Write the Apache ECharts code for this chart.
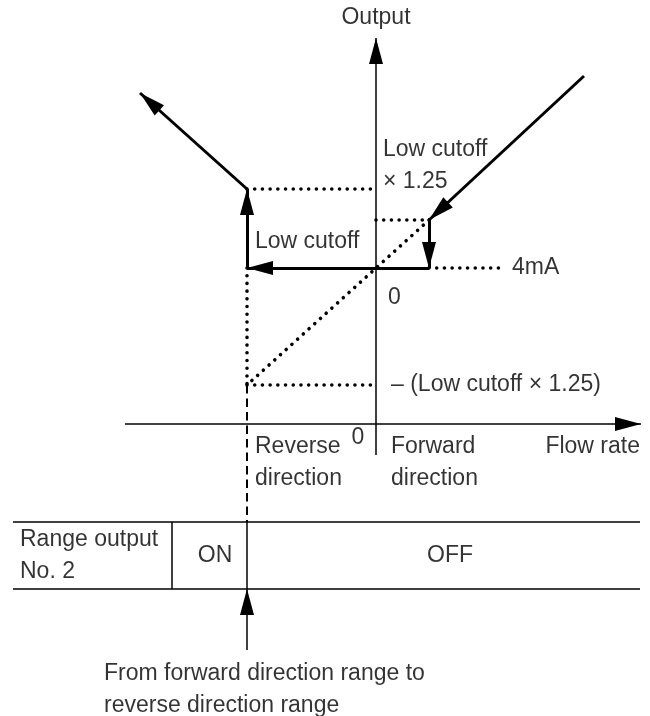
<!DOCTYPE html>
<html>
<head>
<meta charset="utf-8">
<script src="https://cdn.jsdelivr.net/npm/echarts@6/dist/echarts.min.js"></script>
<style>
  html, body { margin: 0; padding: 0; background: #fff; }
  #chart { width: 650px; height: 716px; }
</style>
</head>
<body>
<div id="chart"></div>
<script>
// Schematic units: flow rate on x, output on y, flow axis at y = 0.
const xRange = [-37.6, 27.4];
const yRange = [-29.2, 42.4];

// Key points of the low-cutoff / range switching behaviour
const lowCutoff = 5.3;          // forward low cutoff
const reverseSwitch = -12.9;    // flow where output jumps to the reverse range
const level4mA = 15.6;
const levelCutoff125 = 20.4;
const levelReverseJump = 23.5;
const levelNegCutoff125 = 3.9;

// Axes (arrow at the second point)
const axisArrows = [
  [[-25.1, 0], [26.5, 0]],
  [[0, -3.1], [0, 38.6]]
];

// Output path, each segment ending in an arrow
const outputArrows = [
  [[20.8, 34.8], [lowCutoff, levelCutoff125]],
  [[lowCutoff, levelCutoff125], [lowCutoff, level4mA]],
  [[lowCutoff, level4mA], [reverseSwitch, level4mA]],
  [[reverseSwitch, level4mA], [reverseSwitch, levelReverseJump]],
  [[reverseSwitch, levelReverseJump], [-23.6, 33.1]]
];

// Dotted guide lines
const guides = [
  [[reverseSwitch, levelReverseJump], [0, levelReverseJump]],
  [[0, levelCutoff125], [lowCutoff, levelCutoff125]],
  [[lowCutoff, level4mA], [12.6, level4mA]],
  [[lowCutoff, levelCutoff125], [reverseSwitch, levelNegCutoff125]],
  [[reverseSwitch, level4mA], [reverseSwitch, levelNegCutoff125]],
  [[reverseSwitch, levelNegCutoff125], [0, levelNegCutoff125]]
];

// Dashed drop from the switching point to the table
const dropLine = [[[reverseSwitch, levelNegCutoff125], [reverseSwitch, -9.8]]];

// Range output No. 2 table
const tableRows = [-9.8, -16.5];
const tableSpan = [-36.3, 26.4];
const tableDividers = [-20.4, reverseSwitch];
const switchArrow = [[[reverseSwitch, -22.6], [reverseSwitch, -16.5]]];

// Text: [text, x, y, align]
const notes = [
  ['Output', 0, 40.6, 'center'],
  ['Low cutoff\n× 1.25', 0.7, 25.8, 'left'],
  ['Low cutoff', -12.1, 18.2, 'left'],
  ['4mA', 13.6, level4mA, 'left'],
  ['0', 1.2, 12.6, 'left'],
  ['– (Low cutoff × 1.25)', 1.5, levelNegCutoff125, 'left'],
  ['0', -1.8, -1.4, 'center'],
  ['Reverse\ndirection', -12.1, -3.9, 'left'],
  ['Forward\ndirection', 1.5, -3.9, 'left'],
  ['Flow rate', 26.4, -2.3, 'right'],
  ['Range output\nNo. 2', -35.6, -13.2, 'left'],
  ['ON', -16.1, -13.2, 'center'],
  ['OFF', 7.4, -13.2, 'center'],
  ['From forward direction range to\nreverse direction range', -27.2, -26.6, 'left']
];

// Filled triangle in the lower half of its box, so the tip lands on the
// segment end point (the symbol is centred there)
const arrowHead = 'path://M7,0L7,0M7,26L14,52L0,52Z';
const arrowSize = [[14, 52], [14, 52]];

const toLines = segs => segs.map(s => ({ coords: s }));

const tableSegments = [];
tableRows.forEach(y => tableSegments.push([[tableSpan[0], y], [tableSpan[1], y]]));
tableDividers.forEach(x => tableSegments.push([[x, tableRows[0]], [x, tableRows[1]]]));

const textFont = {
  fontFamily: '"Liberation Sans", Arial, sans-serif',
  fontSize: 23,
  lineHeight: 32,
  color: '#000'
};

const chart = echarts.init(document.getElementById('chart'), null, { renderer: 'canvas' });
chart.setOption({
  backgroundColor: '#fff',
  animation: false,
  grid: { left: 0, right: 0, top: 0, bottom: 0 },
  xAxis: { type: 'value', min: xRange[0], max: xRange[1], show: false },
  yAxis: { type: 'value', min: yRange[0], max: yRange[1], show: false },
  series: [
    {
      type: 'lines', coordinateSystem: 'cartesian2d', silent: true,
      data: toLines(axisArrows),
      symbol: ['none', arrowHead], symbolSize: arrowSize,
      lineStyle: { color: '#000', width: 1.5, opacity: 1 }
    },
    {
      type: 'lines', coordinateSystem: 'cartesian2d', silent: true,
      data: toLines(outputArrows),
      symbol: ['none', arrowHead], symbolSize: arrowSize,
      lineStyle: { color: '#000', width: 3, opacity: 1 }
    },
    {
      type: 'lines', coordinateSystem: 'cartesian2d', silent: true,
      data: toLines(guides),
      symbol: ['none', 'none'],
      lineStyle: { color: '#000', width: 3.6, type: [0.01, 7.7], cap: 'round', opacity: 1 }
    },
    {
      type: 'lines', coordinateSystem: 'cartesian2d', silent: true,
      data: toLines(dropLine),
      symbol: ['none', 'none'],
      lineStyle: { color: '#000', width: 2, type: [8.5, 5], opacity: 1 }
    },
    {
      type: 'lines', coordinateSystem: 'cartesian2d', silent: true,
      data: toLines(tableSegments),
      symbol: ['none', 'none'],
      lineStyle: { color: '#000', width: 1.5, opacity: 1 }
    },
    {
      type: 'lines', coordinateSystem: 'cartesian2d', silent: true,
      data: toLines(switchArrow),
      symbol: ['none', arrowHead], symbolSize: arrowSize,
      lineStyle: { color: '#000', width: 1.5, opacity: 1 }
    },
    {
      type: 'scatter', silent: true, symbolSize: 0,
      data: notes.map(n => ({
        name: n[0],
        value: [n[1], n[2]],
        label: { align: n[3] }
      })),
      label: Object.assign({
        show: true,
        position: 'inside',
        verticalAlign: 'middle',
        formatter: '{b}'
      }, textFont)
    }
  ]
});
</script>
</body>
</html>
